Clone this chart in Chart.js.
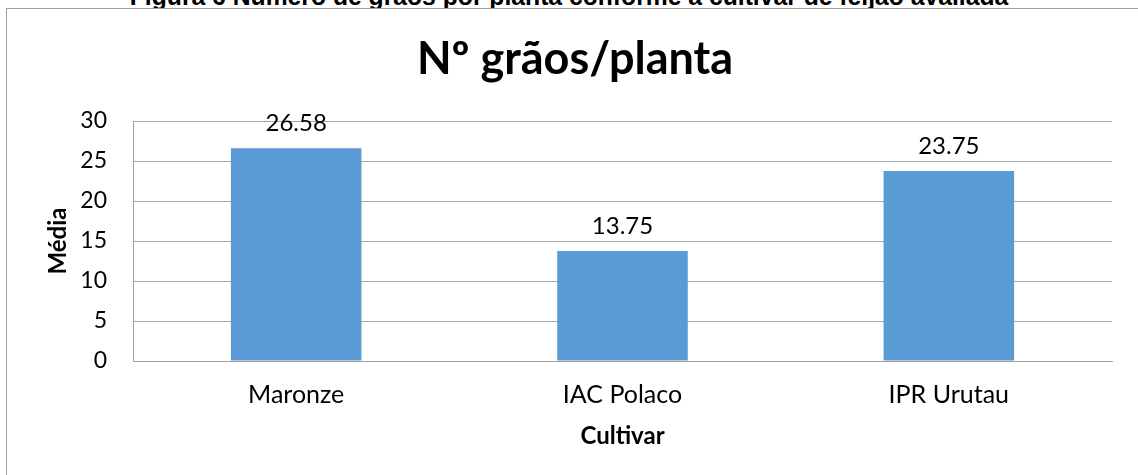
<!DOCTYPE html>
<html>
<head>
<meta charset="utf-8">
<script src="https://cdn.jsdelivr.net/npm/chart.js@4"></script>
<style>
  html, body { margin: 0; padding: 0; background: #fff; overflow: hidden; width: 1138px; height: 475px; }
  #caption {
    position: absolute; left: 569px; top: -19px;
    font: bold 26px 'Liberation Sans', Arial, sans-serif; color: #000;
    white-space: nowrap; transform: translateX(-50%) scaleX(0.95); transform-origin: center;
  }
  #box {
    position: absolute; left: 6px; top: 8px; width: 1136px; height: 470px;
    border: 1px solid #a0a0a0; background: #fff;
  }
</style>
</head>
<body>
<div id="caption">Figura 6 Número de grãos por planta conforme a cultivar de feijão avaliada</div>
<div id="box"><canvas id="chart" width="1136" height="470"></canvas></div>
<script>
const cultivars = ['Maronze', 'IAC Polaco', 'IPR Urutau'];
const graosPorPlanta = [26.58, 13.75, 23.75];
const yMin = 0, yMax = 30, yStep = 5;

const chartTitle = 'Nº grãos/planta';
const xTitle = 'Cultivar';
const yTitle = 'Média';

const fontFamily = "Lato, 'Open Sans', sans-serif";

// title + value labels drawn on the canvas
const labelsPlugin = {
  id: 'labels',
  afterDatasetsDraw(chart) {
    const ctx = chart.ctx;
    ctx.save();
    ctx.fillStyle = '#000';
    ctx.textAlign = 'center';
    ctx.textBaseline = 'middle';
    ctx.font = '24px ' + fontFamily;
    chart.getDatasetMeta(0).data.forEach((bar, i) => {
      ctx.fillText(graosPorPlanta[i].toFixed(2), bar.x, bar.y - 25);
    });
    ctx.font = 'bold 45px ' + fontFamily;
    ctx.textBaseline = 'alphabetic';
    ctx.fillText(chartTitle, 568, 65);
    ctx.restore();
  }
};

new Chart(document.getElementById('chart'), {
  type: 'bar',
  data: {
    labels: cultivars,
    datasets: [{
      data: graosPorPlanta,
      backgroundColor: '#5b9bd5',
      barPercentage: 0.4,
      categoryPercentage: 1
    }]
  },
  options: {
    responsive: false,
    animation: false,
    layout: { padding: { top: 112, right: 31, left: 0, bottom: 0 } },
    plugins: {
      legend: { display: false },
      tooltip: { enabled: false }
    },
    scales: {
      x: {
        afterFit: s => { s.height = 118; },
        grid: { display: false, drawTicks: false },
        border: { color: '#a0a0a0', width: 1 },
        ticks: { color: '#000', padding: 19, font: { family: fontFamily, size: 25 } },
        title: {
          display: true, text: xTitle, color: '#000',
          font: { family: fontFamily, size: 24, weight: 'bold' },
          padding: { top: 0, bottom: 28 }
        }
      },
      y: {
        min: yMin, max: yMax,
        afterFit: s => { s.width = 126; },
        grid: { color: '#a6a6a6', drawTicks: false },
        border: { color: '#a0a0a0', width: 1 },
        ticks: { stepSize: yStep, color: '#000', padding: 26, font: { family: fontFamily, size: 23 } },
        title: {
          display: true, text: yTitle, color: '#000',
          font: { family: fontFamily, size: 24, weight: 'bold' },
          padding: { top: 37, bottom: 0 }
        }
      }
    }
  },
  plugins: [labelsPlugin]
});
</script>
</body>
</html>
